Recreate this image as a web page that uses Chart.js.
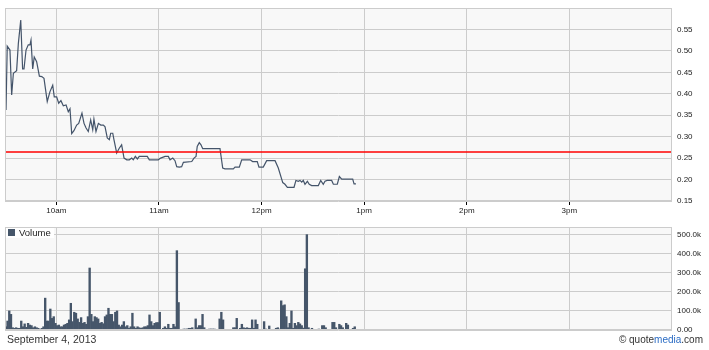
<!DOCTYPE html>
<html>
<head>
<meta charset="utf-8">
<script src="https://cdn.jsdelivr.net/npm/chart.js@4.4.1/dist/chart.umd.min.js"></script>
<style>
  body { margin: 0; background: #fff; width: 709px; height: 350px; position: relative; overflow: hidden; font-family: "Liberation Sans", Arial, sans-serif; }
  #priceBox { position: absolute; left: 0; top: 0; width: 709px; height: 220px; }
  #volBox { position: absolute; left: 0; top: 220px; width: 709px; height: 115px; }
  #volLegend { position: absolute; left: 6px; top: 228px; height: 10px; padding-right: 3px; background: #fff; font-size: 9.5px; line-height: 10px; color: #222; }
  #volLegend span { display: inline-block; width: 7px; height: 7px; background: #46566a; margin: 0 4px 0 2px; vertical-align: 0px; }
  #date { position: absolute; left: 7px; top: 333px; font-size: 10.5px; color: #333; }
  #credit { position: absolute; right: 6px; top: 334px; font-size: 10px; color: #333; }
  #credit b { font-weight: normal; color: #2b6cc4; }
</style>
</head>
<body>
<div id="priceBox"><canvas id="priceChart"></canvas></div>
<div id="volBox"><canvas id="volChart"></canvas></div>
<div id="volLegend"><span></span>Volume</div>
<div id="date">September 4, 2013</div>
<div id="credit">© quote<b>media</b>.com</div>
<script>
// minutes after the 9:30 open
var priceMin = [0.6, 1.3, 2.9, 3.9, 4.9, 6.8, 7.8, 9.2, 10.3, 11.1, 12.3, 13.6, 14.6, 15.2, 16.2, 17.1, 18.5, 20.1, 21.5, 22.8,
  24.7, 26.3, 27.9, 28.8, 30.2, 31.4, 32.7, 34.1, 35.7, 37.0, 38.0, 39.0, 40.3, 41.9, 43.1, 45.0, 46.2, 47.4, 48.7, 50.1,
  51.3, 52.0, 53.2, 54.6, 56.0, 57.5, 58.5, 59.8, 61.0, 61.8, 63.0, 63.7, 65.3, 66.8, 68.2, 69.6, 71.2, 72.7, 74.1, 75.0,
  76.2, 77.4, 78.5, 83.2, 84.4, 89.6, 91.0, 93.6, 95.5, 96.5, 98.1, 99.4, 100.4, 101.9, 103.3, 104.3, 109.2, 110.5, 111.7, 112.4,
  113.6, 114.6, 115.6, 125.7, 127.3, 128.6, 133.5, 134.5, 137.0, 138.4, 143.3, 144.8, 147.5, 148.5, 151.0, 153.0, 157.9, 159.8, 162.4, 163.7,
  165.1, 169.0, 170.1, 171.5, 172.5, 173.5, 174.4, 175.4, 176.8, 177.9, 179.3, 183.2, 184.6, 186.1, 187.1, 188.4, 191.0, 192.0, 194.3, 195.5,
  196.9, 203.3, 204.1, 205.2];
var priceVal = [0.362, 0.511, 0.502, 0.397, 0.448, 0.454, 0.517, 0.572, 0.458, 0.458, 0.502, 0.514, 0.514, 0.525, 0.458, 0.486, 0.475, 0.441, 0.440, 0.436,
  0.382, 0.405, 0.420, 0.393, 0.393, 0.378, 0.384, 0.372, 0.374, 0.358, 0.365, 0.307, 0.314, 0.327, 0.331, 0.355, 0.331, 0.320, 0.312, 0.339,
  0.316, 0.341, 0.312, 0.331, 0.327, 0.327, 0.323, 0.297, 0.293, 0.308, 0.308, 0.293, 0.262, 0.273, 0.281, 0.250, 0.246, 0.246, 0.250, 0.246,
  0.254, 0.248, 0.254, 0.254, 0.246, 0.246, 0.250, 0.254, 0.254, 0.246, 0.250, 0.244, 0.230, 0.229, 0.230, 0.240, 0.242, 0.250, 0.254, 0.277,
  0.286, 0.281, 0.272, 0.272, 0.227, 0.225, 0.225, 0.229, 0.229, 0.246, 0.246, 0.242, 0.242, 0.229, 0.229, 0.244, 0.244, 0.227, 0.193, 0.189,
  0.182, 0.182, 0.198, 0.196, 0.198, 0.194, 0.198, 0.189, 0.196, 0.189, 0.186, 0.186, 0.198, 0.189, 0.196, 0.198, 0.198, 0.189, 0.189, 0.207,
  0.201, 0.201, 0.190, 0.190];
var prevClose = 0.264;

// volume per minute from the open, in thousands of shares
var volumeK = [
  17, 47, 100, 82, 12, 9, 12, 9, 9, 47,
  17, 32, 14, 35, 26, 23, 12, 17, 12, 9,
  0, 9, 17, 167, 47, 47, 110, 61, 70, 35,
  23, 26, 17, 17, 26, 30, 35, 53, 140, 44,
  93, 88, 58, 40, 65, 35, 40, 30, 70, 325,
  82, 44, 70, 65, 58, 35, 40, 33, 70, 79,
  114, 82, 82, 44, 93, 100, 26, 17, 26, 44,
  17, 23, 9, 17, 88, 17, 9, 17, 12, 9,
  12, 17, 17, 23, 79, 44, 23, 35, 39, 39,
  93, 0, 9, 17, 9, 30, 9, 9, 30, 17,
  416, 144, 0, 0, 5, 5, 5, 9, 9, 12,
  0, 58, 12, 23, 23, 82, 12, 0, 0, 5,
  5, 5, 5, 0, 0, 58, 93, 53, 0, 0,
  0, 0, 0, 12, 12, 61, 0, 9, 30, 12,
  9, 12, 9, 9, 53, 9, 53, 30, 0, 0,
  0, 44, 5, 0, 21, 0, 0, 0, 9, 12,
  5, 153, 128, 132, 70, 12, 35, 100, 9, 35,
  23, 40, 32, 23, 10, 321, 500, 12, 0, 9,
  0, 0, 0, 5, 0, 23, 23, 12, 0, 0,
  0, 40, 40, 12, 0, 30, 23, 12, 0, 35,
  26, 0, 0, 9, 17];

var hourTicks = [30, 90, 150, 210, 270, 330];
var hourLabels = ['10am', '11am', '12pm', '1pm', '2pm', '3pm'];
var priceTicks = [0.15, 0.20, 0.25, 0.30, 0.35, 0.40, 0.45, 0.50, 0.55];
var volumeTicks = [0, 100000, 200000, 300000, 400000, 500000];

var tickFont = { family: 'Liberation Sans', size: 8 };
var gridGray = '#cccccc';

// grey plot background and a frame round the plot
var panelFrame = {
  id: 'panelFrame',
  beforeDraw: function (chart) {
    var a = chart.chartArea, ctx = chart.ctx;
    ctx.save();
    ctx.fillStyle = '#f8f8f8';
    ctx.fillRect(a.left, a.top, a.right - a.left, a.bottom - a.top);
    ctx.restore();
  },
  afterDraw: function (chart) {
    var a = chart.chartArea, ctx = chart.ctx;
    ctx.save();
    ctx.strokeStyle = gridGray;
    ctx.lineWidth = 1;
    ctx.strokeRect(Math.round(a.left) + 0.5, Math.round(a.top) + 0.5, Math.round(a.right - a.left) - 1, Math.round(a.bottom - a.top) - 1);
    ctx.restore();
  }
};

function hourAxis(showLabels) {
  return {
    type: 'linear',
    min: 0,
    max: 390,
    offset: false,
    afterBuildTicks: function (scale) {
      scale.ticks = hourTicks.map(function (v) { return { value: v }; });
    },
    afterFit: function (scale) { scale.height = showLabels ? 19 : 5; },
    grid: { color: gridGray, tickColor: '#000', tickLength: 4, drawTicks: showLabels, offset: false },
    border: { display: false },
    ticks: {
      display: showLabels,
      autoSkip: false,
      maxRotation: 0,
      padding: 1,
      color: '#222',
      font: tickFont,
      callback: function (v) { return hourLabels[hourTicks.indexOf(v)]; }
    }
  };
}

// right-hand value axis; label overhang must not shrink the plot
function valueAxis(min, max, tickList, fmt) {
  return {
    position: 'right',
    min: min,
    max: max,
    afterBuildTicks: function (scale) {
      scale.ticks = tickList.map(function (v) { return { value: v }; });
    },
    afterFit: function (scale) {
      scale.width = 37;
      scale.paddingTop = 0;
      scale.paddingBottom = 0;
    },
    grid: { color: gridGray, drawTicks: false },
    border: { display: false },
    ticks: { padding: 5, color: '#222', font: tickFont, callback: fmt }
  };
}

var priceCtx = document.getElementById('priceChart').getContext('2d');
var priceChart = new Chart(priceCtx, {
  type: 'line',
  data: {
    datasets: [
      {
        label: 'Previous close',
        data: [{ x: 0, y: prevClose }, { x: 390, y: prevClose }],
        borderColor: '#ff0000',
        borderWidth: 1.5,
        pointRadius: 0,
        order: 0
      },
      {
        label: 'Price',
        data: priceMin.map(function (m, i) { return { x: m, y: priceVal[i] }; }),
        borderColor: '#44546a',
        borderWidth: 1.2,
        pointRadius: 0,
        tension: 0,
        order: 1
      }
    ]
  },
  options: {
    responsive: true,
    maintainAspectRatio: false,
    animation: false,
    events: [],
    layout: { padding: { left: 5, top: 8, right: 0, bottom: 0 } },
    plugins: { legend: { display: false }, tooltip: { enabled: false } },
    scales: {
      x: hourAxis(true),
      y: valueAxis(0.15, 0.60, priceTicks, function (v) { return v.toFixed(2); })
    }
  },
  plugins: [panelFrame]
});

var volCtx = document.getElementById('volChart').getContext('2d');
var volChart = new Chart(volCtx, {
  type: 'bar',
  data: {
    datasets: [{
      label: 'Volume',
      data: volumeK.map(function (v, i) { return { x: i + 0.5, y: v * 1000 }; }),
      backgroundColor: '#46566a',
      barPercentage: 1,
      categoryPercentage: 1
    }]
  },
  options: {
    responsive: true,
    maintainAspectRatio: false,
    animation: false,
    events: [],
    layout: { padding: { left: 5, top: 7, right: 0, bottom: 0 } },
    plugins: { legend: { display: false }, tooltip: { enabled: false } },
    scales: {
      x: hourAxis(false),
      y: valueAxis(0, 540000, volumeTicks, function (v) { return v === 0 ? '0.00' : (v / 1000).toFixed(1) + 'k'; })
    }
  },
  plugins: [panelFrame]
});
</script>
</body>
</html>
